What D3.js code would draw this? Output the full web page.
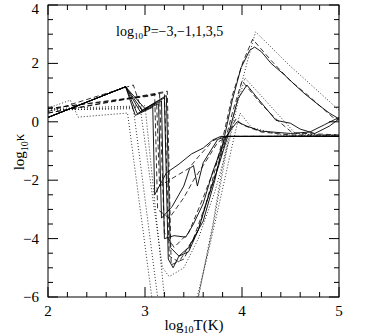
<!DOCTYPE html>
<html><head><meta charset="utf-8">
<script src="https://cdn.jsdelivr.net/npm/d3@7"></script>
<style>body{margin:0;background:#fff}svg{display:block}text{font-family:"Liberation Serif","DejaVu Serif",serif;fill:#000}</style>
</head><body><svg id="c" width="370" height="336"></svg>
<script>
// x ticks, y ticks
const xTicks = [2, 3, 4, 5];
const yTicks = [-6, -4, -2, 0, 2, 4];
const pressures = ["-3", "-1", "1", "3", "5"];

// solid curves (log T, log kappa)
const solidPm3 = [[2,0.15],[2.8,1.2],[2.9,0.22],[3.08,0.5],[3.1,-2.5],[3.22,-1.75],[3.35,-1.45],[3.48,-1.1],[3.6,-0.9],[3.7,-0.62],[3.78,-0.5],[5,-0.5]];
const solidPm1 = [[2,0.15],[2.8,1.2],[2.92,0.28],[3.14,0.62],[3.17,-3.3],[3.28,-2.9],[3.4,-2.2],[3.46,-1.6],[3.5,-1.5],[3.54,-2.2],[3.6,-1.4],[3.75,-0.6],[3.85,-0.5],[5,-0.48]];
const solidP1 = [[2,0.15],[2.8,1.2],[2.95,0.35],[3.17,0.72],[3.2,-4.0],[3.3,-3.9],[3.42,-3.95],[3.5,-3.5],[3.6,-2.8],[3.7,-1.7],[3.82,-0.6],[3.89,-0.25],[3.95,0.0],[4.05,-0.15],[4.2,-0.32],[4.5,-0.4],[4.7,-0.35],[4.85,-0.1],[5,0.15]];
const solidP3 = [[2,0.15],[2.8,1.2],[2.97,0.4],[3.2,0.82],[3.24,-4.7],[3.29,-5.0],[3.35,-4.6],[3.45,-4.45],[3.55,-3.7],[3.65,-2.6],[3.76,-1.5],[3.87,-0.3],[3.96,0.8],[4.05,1.26],[4.15,0.85],[4.25,0.45],[4.35,0.05],[4.5,-0.05],[4.6,-0.25],[4.75,-0.4],[4.9,-0.15],[5,0.1]];
const solidP5 = [[2,0.15],[2.8,1.2],[3.0,0.45],[3.22,0.9],[3.26,-4.3],[3.35,-4.6],[3.45,-4.3],[3.6,-3.4],[3.72,-2.0],[3.82,-0.5],[3.9,0.74],[3.99,1.85],[4.08,2.45],[4.13,2.56],[4.2,2.4],[4.3,2.0],[4.44,1.6],[4.55,1.25],[4.65,0.95],[4.8,0.55],[4.9,0.3],[5,0.1]];

// dashed curves
const dashPm3 = [[2,0.35],[2.88,1.26],[2.97,0.35],[3.12,0.65],[3.15,-2.2],[3.3,-1.9],[3.45,-1.6],[3.55,-1.2],[3.7,-0.65],[3.8,-0.5],[5,-0.5]];
const dashPm1 = [[2,0.45],[3.05,0.88],[3.1,0.92],[3.13,-3.0],[3.25,-3.3],[3.4,-2.6],[3.5,-2.0],[3.6,-1.5],[3.75,-0.7],[3.85,-0.5],[5,-0.5]];
const dashP1 = [[2,0.45],[3.15,0.95],[3.2,-3.8],[3.3,-4.3],[3.45,-3.8],[3.6,-2.6],[3.76,-1.2],[3.87,-0.3],[3.94,0.1],[4.0,-0.1],[4.2,-0.35],[4.5,-0.45],[5,-0.45]];
const dashP3 = [[2,0.3],[3.2,1.0],[3.25,-4.6],[3.35,-4.8],[3.5,-4.0],[3.65,-2.6],[3.8,-1.0],[3.9,0.3],[4.0,1.4],[4.2,0.6],[4.35,0.1],[4.52,-0.38],[5,-0.45]];
const dashP5 = [[2,0.3],[3.23,1.05],[3.27,-4.9],[3.4,-4.7],[3.55,-3.7],[3.68,-2.2],[3.8,-0.6],[3.9,0.9],[4.01,2.05],[4.11,2.83],[4.3,2.1],[4.5,1.4],[4.7,0.85],[4.93,0.17],[5,0.05]];

// dotted curves
const dotPm3 = [[2,0.47],[2.23,0.74],[2.31,0.16],[2.82,0.3],[3.07,-6.0],[3.2,-8],[3.45,-7],[3.55,-6],[3.7,-3.5],[3.8,-1.5],[3.86,-0.5],[5,-0.5]];
const dotPm1 = [[2,0.4],[2.88,0.45],[3.13,-6],[3.3,-8],[3.5,-6.5],[3.65,-4.5],[3.82,-2.0],[3.92,-0.5],[3.98,0.3],[4.1,-0.2],[4.4,-0.45],[5,-0.5]];
const dotP1 = [[2,0.4],[2.95,0.5],[3.18,-5.0],[3.25,-5.3],[3.4,-5.0],[3.55,-4.0],[3.72,-2.4],[3.88,-0.5],[3.96,0.7],[4.03,1.5],[4.25,0.7],[4.55,-0.4],[5,-0.5]];
const dotP3 = [[2,0.45],[3.0,0.55],[3.2,-6],[3.4,-6.8],[3.55,-6],[3.7,-3.6],[3.84,-1.0],[3.94,0.6],[4.05,2.0],[4.14,3.08],[4.5,1.9],[4.8,1.0],[5,0.4]];

const series = [
  {d: solidPm3, s: "solid"}, {d: solidPm1, s: "solid"}, {d: solidP1, s: "solid"}, {d: solidP3, s: "solid"}, {d: solidP5, s: "solid"},
  {d: dashPm3, s: "dash"}, {d: dashPm1, s: "dash"}, {d: dashP1, s: "dash"}, {d: dashP3, s: "dash"}, {d: dashP5, s: "dash"},
  {d: dotPm3, s: "dot"}, {d: dotPm1, s: "dot"}, {d: dotP1, s: "dot"}, {d: dotP3, s: "dot"}
];

const L = 48, R = 339, T = 5, B = 297;
const x = d3.scaleLinear().domain([2, 5]).range([L, R]);
const y = d3.scaleLinear().domain([-6, 4]).range([B, T]);
const svg = d3.select("#c");

svg.append("clipPath").attr("id", "clip").append("rect")
  .attr("x", L).attr("y", T).attr("width", R - L).attr("height", B - T);

const line = d3.line().x(d => x(d[0])).y(d => y(d[1]));
const g = svg.append("g").attr("clip-path", "url(#clip)");
const dash = {solid: null, dash: "5,3", dot: "1,2"};
series.forEach(sr => {
  g.append("path").attr("d", line(sr.d)).attr("fill", "none")
    .attr("stroke", "#000").attr("stroke-width", sr.s === "solid" ? 0.9 : 0.8)
    .attr("stroke-dasharray", dash[sr.s]);
});

// axes (ticks inward on all four sides)
const xMinor = d3.range(2, 5.001, 0.2);
const yMinor = d3.range(-6, 4.001, 0.5);
const ax = svg.append("g").attr("stroke", "#000").attr("stroke-width", 1);
ax.append("rect").attr("x", L).attr("y", T).attr("width", R - L).attr("height", B - T).attr("fill", "none");
xMinor.forEach(v => {
  const major = xTicks.some(t => Math.abs(t - v) < 1e-6);
  const len = major ? 10 : 5;
  ax.append("line").attr("x1", x(v)).attr("x2", x(v)).attr("y1", B).attr("y2", B - len);
  ax.append("line").attr("x1", x(v)).attr("x2", x(v)).attr("y1", T).attr("y2", T + len);
});
yMinor.forEach(v => {
  const major = yTicks.some(t => Math.abs(t - v) < 1e-6);
  const len = major ? 10 : 5;
  ax.append("line").attr("y1", y(v)).attr("y2", y(v)).attr("x1", L).attr("x2", L + len);
  ax.append("line").attr("y1", y(v)).attr("y2", y(v)).attr("x1", R).attr("x2", R - len);
});

svg.selectAll(".xt").data(xTicks).enter().append("text")
  .attr("x", d => x(d)).attr("y", 316).attr("text-anchor", "middle").attr("font-size", 15).text(d => d);
svg.selectAll(".yt").data(yTicks).enter().append("text")
  .attr("x", 39).attr("y", d => Math.max(y(d) + 5, 14)).attr("text-anchor", "end").attr("font-size", 15)
  .text(d => d < 0 ? "\u2212" + Math.abs(d) : d);

// x label
const xl = svg.append("text").attr("x", 194).attr("y", 330).attr("text-anchor", "middle").attr("font-size", 15);
xl.append("tspan").text("log");
xl.append("tspan").attr("font-size", 10).attr("dy", 3).text("10");
xl.append("tspan").attr("dy", -3).text("T(K)");

// y label
const yl = svg.append("text").attr("transform", "translate(24,152) rotate(-90)").attr("text-anchor", "middle").attr("font-size", 15);
yl.append("tspan").text("log");
yl.append("tspan").attr("font-size", 10).attr("dy", 4).text("10");
yl.append("tspan").attr("dy", -4).text("\u03ba");

// pressure annotation
const pl = svg.append("text").attr("x", 116).attr("y", 36).attr("font-size", 14);
pl.append("tspan").text("log");
pl.append("tspan").attr("font-size", 9).attr("dy", 3).text("10");
pl.append("tspan").attr("dy", -3).text("P=" + pressures.map(p => p.replace("-", "\u2212")).join(","));
</script></body></html>
